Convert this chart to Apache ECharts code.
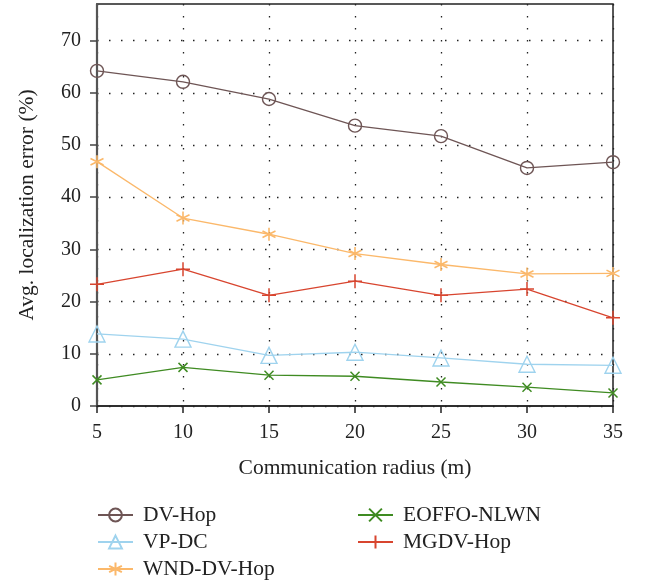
<!DOCTYPE html>
<html>
<head>
<meta charset="utf-8">
<script src="https://cdn.jsdelivr.net/npm/echarts@6/dist/echarts.min.js"></script>
<style>html,body{margin:0;padding:0;background:#fff}#c{width:647px;height:584px}</style>
</head>
<body>
<div id="c"></div>
<script>
const radius = [5, 10, 15, 20, 25, 30, 35];
const yTicks = [0, 10, 20, 30, 40, 50, 60, 70];
const xTicks = [5, 10, 15, 20, 25, 30, 35];
const dvHop = [64.2, 62.1, 58.8, 53.7, 51.7, 45.6, 46.7];
const vpDc = [13.8, 12.8, 9.7, 10.3, 9.2, 8.0, 7.8];
const wndDvHop = [46.8, 36.0, 32.9, 29.2, 27.1, 25.3, 25.4];
const eoffoNlwn = [5.0, 7.4, 5.9, 5.7, 4.6, 3.6, 2.5];
const mgdvHop = [23.3, 26.2, 21.2, 23.9, 21.2, 22.4, 16.9];

const FONT = 'Liberation Serif';
const chart = echarts.init(document.getElementById('c'), null, {renderer: 'canvas'});

function pairs(arr) { return radius.map((r, i) => [r, arr[i]]); }
function mk(name, data, color, symbol, size, bw) {
  return {
    name, type: 'line', data: pairs(data), symbol, symbolSize: size,
    showAllSymbol: true, clip: false,
    lineStyle: {color, width: 1.3},
    itemStyle: {color: 'rgba(0,0,0,0)', borderColor: color, borderWidth: bw || 1.4},
    emphasis: {disabled: true}
  };
}
const PLUS = 'path://M0,-1L0,1M-1,0L1,0';
const CROSS = 'path://M-1,-1L1,1M-1,1L1,-1';
const STAR = 'path://M0,-1L0,1M-0.866,-0.5L0.866,0.5M-0.866,0.5L0.866,-0.5';
const TRI = 'path://M0,-0.8L0.9,0.75L-0.9,0.75Z';

const legendCommon = {
  orient: 'vertical', itemWidth: 35, itemHeight: 16, itemGap: 5, padding: 0,
  height: 90,
  textStyle: {fontFamily: FONT, fontSize: 21.5, color: '#222', padding: [0, 0, 0, 5]}
};

chart.setOption({
  animation: false,
  backgroundColor: '#fff',
  grid: {left: 97, right: 34, top: 4, bottom: 178, show: true, borderColor: '#222', borderWidth: 1.5, backgroundColor: 'transparent'},
  xAxis: {
    type: 'value', min: 5, max: 35, interval: 5,
    name: 'Communication radius (m)', nameLocation: 'middle', nameGap: 51,
    nameTextStyle: {fontFamily: FONT, fontSize: 21.5, color: '#222'},
    axisLine: {show: true, lineStyle: {color: '#222', width: 1.5}},
    axisTick: {show: true, length: 7, lineStyle: {color: '#222', width: 1.5}},
    axisLabel: {fontFamily: FONT, fontSize: 20, color: '#222', margin: 17},
    splitLine: {show: true, lineStyle: {type: [1.5, 10.5], color: '#222', width: 1.3}}
  },
  yAxis: {
    type: 'value', min: 0, max: 77, interval: 10,
    name: 'Avg. localization error (%)', nameLocation: 'middle', nameGap: 59,
    nameTextStyle: {fontFamily: FONT, fontSize: 21.5, color: '#222'},
    axisLine: {show: true, lineStyle: {color: '#555', width: 2.2}},
    axisTick: {show: true, length: 7, customValues: yTicks, lineStyle: {color: '#444', width: 1.5}},
    axisLabel: {fontFamily: FONT, fontSize: 20, color: '#222', margin: 16, customValues: yTicks},
    splitLine: {show: true, lineStyle: {type: [1.5, 10.5], color: '#222', width: 1.3}}
  },
  legend: [
    Object.assign({}, legendCommon, {left: 97, top: 504, data: ['DV-Hop', 'VP-DC', 'WND-DV-Hop']}),
    Object.assign({}, legendCommon, {left: 357, top: 504, data: ['EOFFO-NLWN', 'MGDV-Hop']})
  ],
  series: [
    mk('DV-Hop', dvHop, '#6e5555', 'circle', 13, 1.4),
    mk('VP-DC', vpDc, '#9fd3ee', TRI, 16, 1.4),
    mk('WND-DV-Hop', wndDvHop, '#fbb86a', STAR, 13, 1.6),
    mk('EOFFO-NLWN', eoffoNlwn, '#3f8b22', CROSS, 9, 1.5),
    mk('MGDV-Hop', mgdvHop, '#d8452f', PLUS, 14, 1.5)
  ]
});
</script>
</body>
</html>
